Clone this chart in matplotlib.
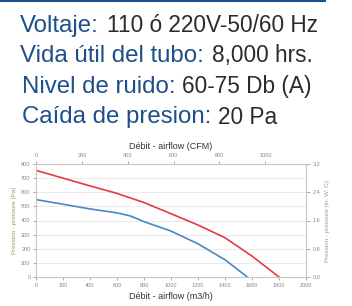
import matplotlib
matplotlib.use("Agg")
import matplotlib.pyplot as plt
from matplotlib.ticker import FormatStrFormatter

# spec lines
spec_labels = ["Voltaje:", "Vida útil del tubo:", "Nivel de ruido:", "Caída de presion:"]
spec_values = ["110 ó 220V-50/60 Hz", "8,000 hrs.", "60-75 Db (A)", "20 Pa"]

# fan curves (m3/h, Pa)
red_flow = [0, 200, 400, 600, 800, 1000, 1200, 1400, 1600, 1800]
red_pres = [755, 700, 645, 592, 527, 448, 368, 278, 148, 0]
blue_flow = [0, 200, 400, 600, 700, 800, 1000, 1200, 1400, 1565]
blue_pres = [548, 515, 482, 454, 432, 392, 325, 235, 122, 0]

x_ticks = list(range(0, 2001, 200))
y_ticks = list(range(0, 801, 100))
cfm_ticks = [0, 200, 400, 600, 800, 1000]
wg_ticks = [0.0, 0.8, 1.6, 2.4, 3.2]

label_col = "#1d4f8b"
value_col = "#2b2b2b"
tick_col = "#8a8a8a"

plt.rcParams['font.family'] = ['Liberation Sans', 'DejaVu Sans']

fig = plt.figure(figsize=(3.52, 3.06), dpi=100)
W, H = 352, 306

# top rule
fig.add_artist(plt.Line2D([0, 325 / W], [1 - 0.8 / H, 1 - 0.8 / H], color=label_col, lw=1.5))

# text layout in pixels
baselines = [32, 62.5, 93, 123.5]
label_x = [20, 20, 22, 22]
value_x = [107, 212, 182, 218]
for lab, val, yb, xl, xv in zip(spec_labels, spec_values, baselines, label_x, value_x):
    fig.text(xl / W, 1 - yb / H, lab, color=label_col, fontsize=17.3,
             va='baseline', ha='left')
    fig.text(xv / W, 1 - yb / H, val, color=value_col, fontsize=16.3,
             va='baseline', ha='left')

ax = fig.add_axes([36 / W, 1 - 277 / H, 270 / W, 113 / H])
ax.plot(red_flow, red_pres, color="#e53a3f", lw=1.2)
ax.plot(blue_flow, blue_pres, color="#4a86c6", lw=1.2)
ax.set_xlim(0, 2000)
ax.set_ylim(0, 800)
ax.set_xticks(x_ticks)
ax.set_yticks(y_ticks)
ax.grid(axis='y', color="#e6e6e6", lw=0.6)
ax.set_axisbelow(True)
for s in ax.spines.values():
    s.set_color("#c8c8c8")
    s.set_linewidth(0.8)
ax.tick_params(labelsize=4, colors=tick_col, length=2, width=0.5, pad=2)
ax.set_xlabel("Débit - airflow (m3/h)", fontsize=6.5, color="#333333", labelpad=3)
ax.set_ylabel("Pression - pressure (Pa)", fontsize=4.5, color="#9a9a6a", labelpad=3)

top = ax.secondary_xaxis('top', functions=(lambda x: x / 1.699, lambda x: x * 1.699))
top.set_xticks(cfm_ticks)
top.tick_params(labelsize=4, colors=tick_col, length=2, width=0.5, pad=2)
top.spines['top'].set_color("#c8c8c8")
top.set_xlabel("Débit - airflow (CFM)", fontsize=6.5, color="#333333", labelpad=3)

right = ax.secondary_yaxis('right', functions=(lambda y: y / 250, lambda y: y * 250))
right.set_yticks(wg_ticks)
right.yaxis.set_major_formatter(FormatStrFormatter('%.1f'))
right.tick_params(labelsize=4, colors=tick_col, length=3, width=0.5, pad=2)
right.spines['right'].set_color("#c8c8c8")
right.set_ylabel("Pression - pressure (in. W. G)", fontsize=4.5, color="#9a9a9a", labelpad=3)

fig.savefig("out.png", dpi=100)
